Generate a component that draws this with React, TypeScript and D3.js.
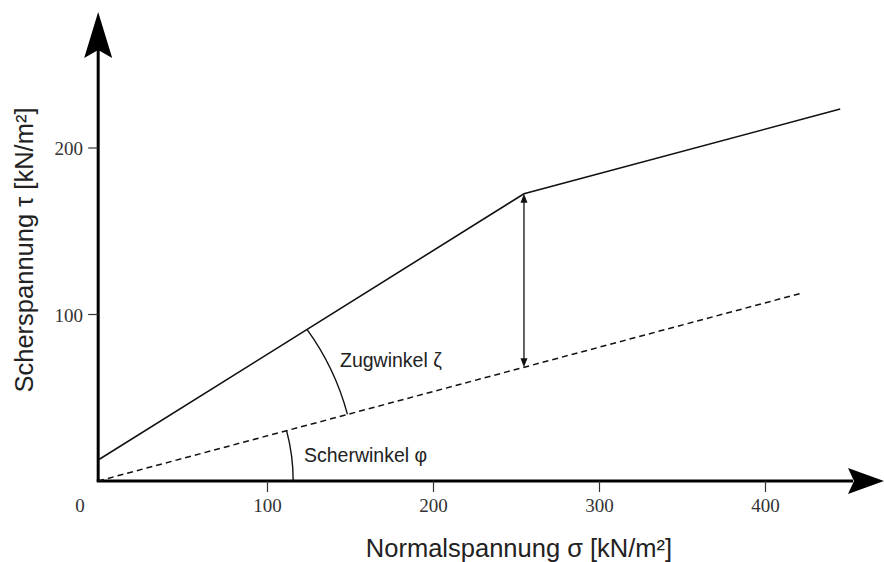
import React from "react";
import * as d3 from "d3";

const xTicks = [100, 200, 300, 400];
const yTicks = [100, 200];
const solidX = [-2, 254.5, 445];
const solidY = [12.6, 172.5, 223.4];
const dashedX = [-2, 422];
const dashedY = [0, 112.9];
const originX = -2;
const gapX = 254.5;
const xTitle = "Normalspannung σ [kN/m²]";
const yTitle = "Scherspannung τ [kN/m²]";
const zugLabel = "Zugwinkel ζ";
const scherLabel = "Scherwinkel φ";

const W = 884;
const H = 562;

export default function App() {
  const x = d3.scaleLinear().domain([0, 400]).range([101.5, 765.5]);
  const y = d3.scaleLinear().domain([0, 200]).range([481, 148]);
  const ox = x(originX);
  const oy = y(0);

  const line = d3.line<[number, number]>().x((d) => x(d[0])).y((d) => y(d[1]));
  const solidPts: [number, number][] = solidX.map((v, i) => [v, solidY[i]]);
  const dashedPts: [number, number][] = dashedX.map((v, i) => [v, dashedY[i]]);

  const interp = (xs: number[], ys: number[], v: number) => d3.scaleLinear().domain(xs).range(ys)(v);

  const circleHit = (p0: [number, number], p1: [number, number], r: number) => {
    const dx = p1[0] - p0[0];
    const dy = p1[1] - p0[1];
    const fx = p0[0] - ox;
    const fy = p0[1] - oy;
    const a = dx * dx + dy * dy;
    const b = 2 * (fx * dx + fy * dy);
    const c = fx * fx + fy * fy - r * r;
    const t = (-b + Math.sqrt(b * b - 4 * a * c)) / (2 * a);
    return [p0[0] + t * dx, p0[1] + t * dy];
  };
  const sP0: [number, number] = [x(solidX[0]), y(solidY[0])];
  const sP1: [number, number] = [x(solidX[1]), y(solidY[1])];
  const dP0: [number, number] = [x(dashedX[0]), y(dashedY[0])];
  const dP1: [number, number] = [x(dashedX[1]), y(dashedY[1])];

  const r1 = 258;
  const a1 = circleHit(sP0, sP1, r1);
  const a2 = circleHit(dP0, dP1, r1);
  const r2 = 195;
  const b1 = circleHit(dP0, dP1, r2);
  const b2 = [ox + r2, oy];

  const gx = x(gapX);
  const gTop = y(interp(solidX, solidY, gapX));
  const gBot = y(interp(dashedX, dashedY, gapX));

  const sans = "'Liberation Sans', Arial, sans-serif";
  const serif = "'Liberation Serif', 'Times New Roman', serif";

  return (
    <svg width={W} height={H} style={{ position: "absolute", left: 0, top: 0, background: "#fff" }}>
      {/* axes */}
      <line x1={ox} y1={oy} x2={ox} y2={50} stroke="#000" strokeWidth={3} />
      <line x1={ox - 1.5} y1={oy} x2={853} y2={oy} stroke="#000" strokeWidth={3} />
      <path d={`M${ox},12 L${ox + 14},58 L${ox},50 L${ox - 14},58 Z`} fill="#000" />
      <path d={`M884,${oy} L848,${oy - 13} L854,${oy} L848,${oy + 13} Z`} fill="#000" />

      {/* ticks */}
      {xTicks.map((t) => (
        <g key={"x" + t}>
          <line x1={x(t)} x2={x(t)} y1={oy} y2={oy + 11} stroke="#333" strokeWidth={1.2} />
          <text x={x(t)} y={oy + 31} textAnchor="middle" fontFamily={serif} fontSize={19} fill="#333">
            {t}
          </text>
        </g>
      ))}
      {yTicks.map((t) => (
        <g key={"y" + t}>
          <line x1={ox - 10} x2={ox} y1={y(t)} y2={y(t)} stroke="#333" strokeWidth={1.2} />
          <text x={83} y={y(t) + 7} textAnchor="end" fontFamily={serif} fontSize={19} fill="#333">
            {t}
          </text>
        </g>
      ))}
      <text x={80} y={oy + 31} textAnchor="middle" fontFamily={serif} fontSize={19} fill="#333">
        0
      </text>

      {/* lines */}
      <path d={line(solidPts) || ""} fill="none" stroke="#111" strokeWidth={1.6} />
      <path d={line(dashedPts) || ""} fill="none" stroke="#111" strokeWidth={1.5} strokeDasharray="6,4" />

      {/* double arrow */}
      <line x1={gx} x2={gx} y1={gTop + 6} y2={gBot - 6} stroke="#111" strokeWidth={1.3} />
      <path d={`M${gx},${gTop} L${gx + 3.5},${gTop + 9} L${gx - 3.5},${gTop + 9} Z`} fill="#111" />
      <path d={`M${gx},${gBot} L${gx + 3.5},${gBot - 9} L${gx - 3.5},${gBot - 9} Z`} fill="#111" />

      {/* angle arcs */}
      <path d={`M${a1[0]},${a1[1]} A${r1},${r1} 0 0 1 ${a2[0]},${a2[1]}`} fill="none" stroke="#111" strokeWidth={1.4} />
      <path d={`M${b1[0]},${b1[1]} A${r2},${r2} 0 0 1 ${b2[0]},${b2[1]}`} fill="none" stroke="#111" strokeWidth={1.4} />

      <text x={340} y={367} fontFamily={sans} fontSize={19.5} fill="#222">
        {zugLabel}
      </text>
      <text x={304} y={462} fontFamily={sans} fontSize={19.5} fill="#222">
        {scherLabel}
      </text>

      {/* titles */}
      <text x={519} y={557} textAnchor="middle" fontFamily={sans} fontSize={25.5} fill="#222">
        {xTitle}
      </text>
      <text
        transform={`translate(33,250) rotate(-90)`}
        textAnchor="middle"
        fontFamily={sans}
        fontSize={25.5}
        fill="#222"
      >
        {yTitle}
      </text>
    </svg>
  );
}
